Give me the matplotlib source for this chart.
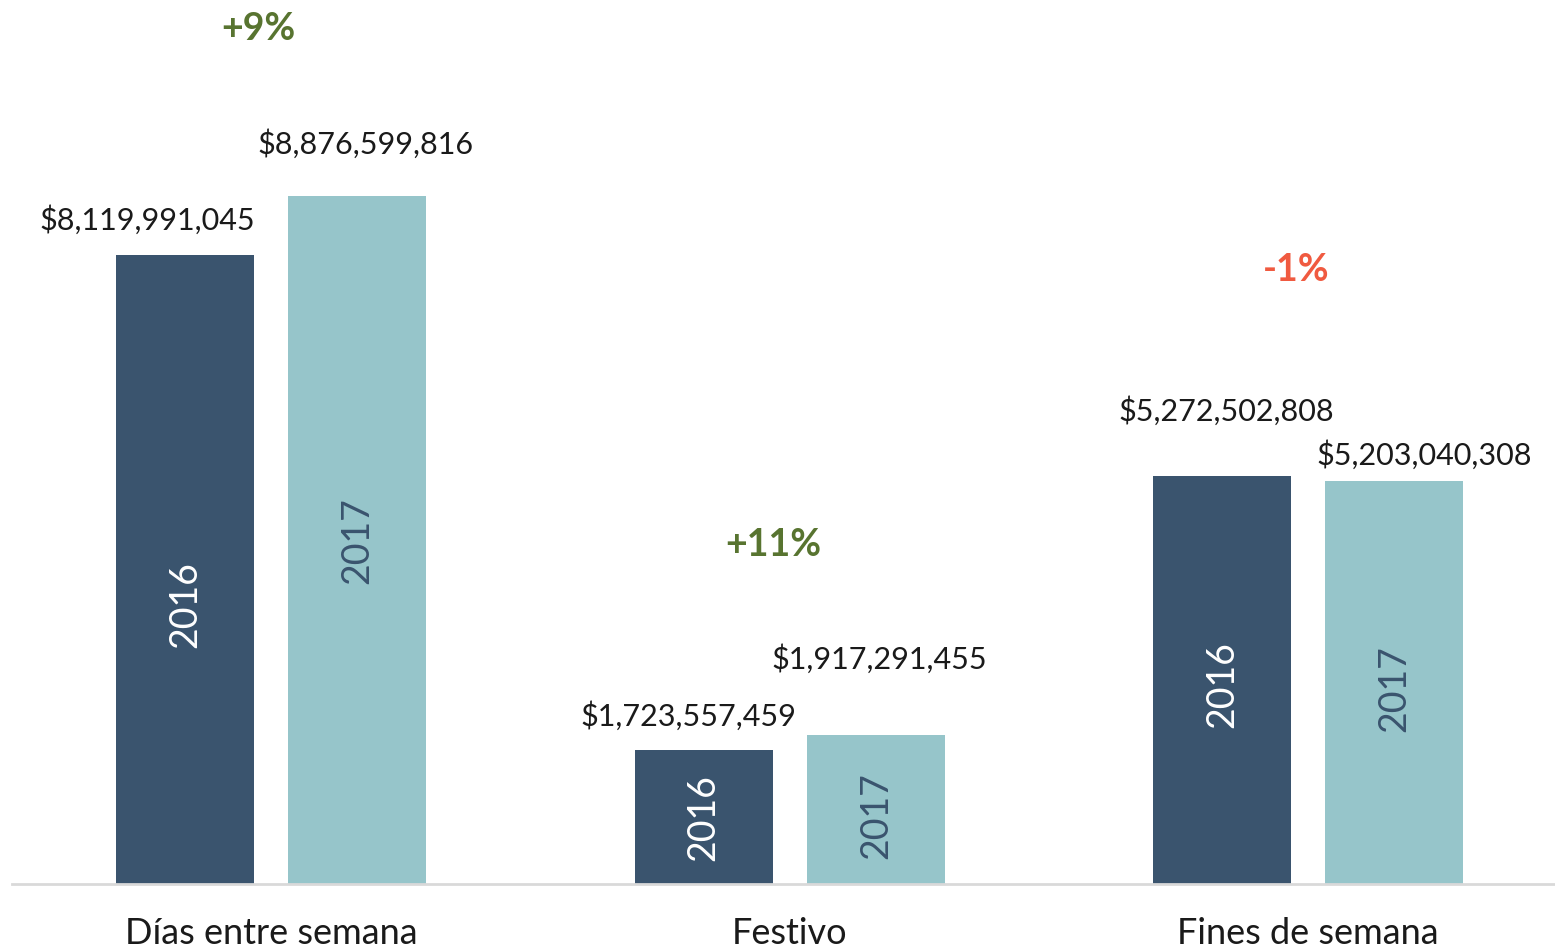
import matplotlib.pyplot as plt
import numpy as np

categories = ["Días entre semana", "Festivo", "Fines de semana"]
years = ["2016", "2017"]
values_2016 = [8119991045, 1723557459, 5272502808]
values_2017 = [8876599816, 1917291455, 5203040308]

DARK = "#3A546E"
LIGHT = "#96C5CA"
GREEN = "#587430"
RED = "#F05A40"

plt.rcParams["font.family"] = ["Lato", "DejaVu Sans"]

# label offsets in pixels (dx from bar center, dy above bar top)
label_off_2016 = [(-38, 35), (-15, 35), (4, 65)]
label_off_2017 = [(8, 52), (3, 77), (30, 26)]
# year text offset from bar middle (pixels, negative = down)
year_off_2016 = [-35, 0, -5]
year_off_2017 = [0, -6, -6]
# change label offset from taller bar top
pct_off = [(-13, 167), (-16, 190), (-12, 206)]

fig = plt.figure(figsize=(15.55, 9.5), dpi=100)
ax = fig.add_axes([12 / 1555, 66 / 950, 1543 / 1555, 884 / 950])

x = np.arange(len(categories))
w = 0.266
shift = 0.166
b16 = ax.bar(x - shift, values_2016, w, color=DARK)
b17 = ax.bar(x + shift, values_2017, w, color=LIGHT)

ax.set_xlim(-0.5, 2.476)
ax.set_ylim(0, 884 / 77.46 * 1e9)

for i in range(len(categories)):
    for vals, xs, offs, yoffs, col, year in [
        (values_2016, x[i] - shift, label_off_2016, year_off_2016, "white", years[0]),
        (values_2017, x[i] + shift, label_off_2017, year_off_2017, DARK, years[1]),
    ]:
        v = vals[i]
        ax.annotate(f"${v:,}", xy=(xs, v), xytext=offs[i], textcoords="offset pixels",
                    ha="center", va="center", fontsize=22, color="#1a1a1a")
        ax.annotate(year, xy=(xs, v / 2), xytext=(0, yoffs[i]), textcoords="offset pixels",
                    ha="center", va="center", rotation=90, fontsize=27, color=col)

    change = values_2017[i] / values_2016[i] - 1
    txt = f"{change * 100:+.0f}%"
    ax.annotate(txt, xy=(x[i], max(values_2016[i], values_2017[i])), xytext=pct_off[i],
                textcoords="offset pixels", ha="center", va="center", fontsize=27,
                fontweight="bold", color=GREEN if change >= 0 else RED)

ax.set_xticks(x)
ax.set_xticklabels(categories, fontsize=26, color="#1a1a1a")
ax.tick_params(axis="x", length=0, pad=24)
ax.set_yticks([])
for s in ["top", "right", "left"]:
    ax.spines[s].set_visible(False)
ax.spines["bottom"].set_color("#D9D9D9")
ax.spines["bottom"].set_linewidth(2)

fig.savefig("out.png", dpi=100)
